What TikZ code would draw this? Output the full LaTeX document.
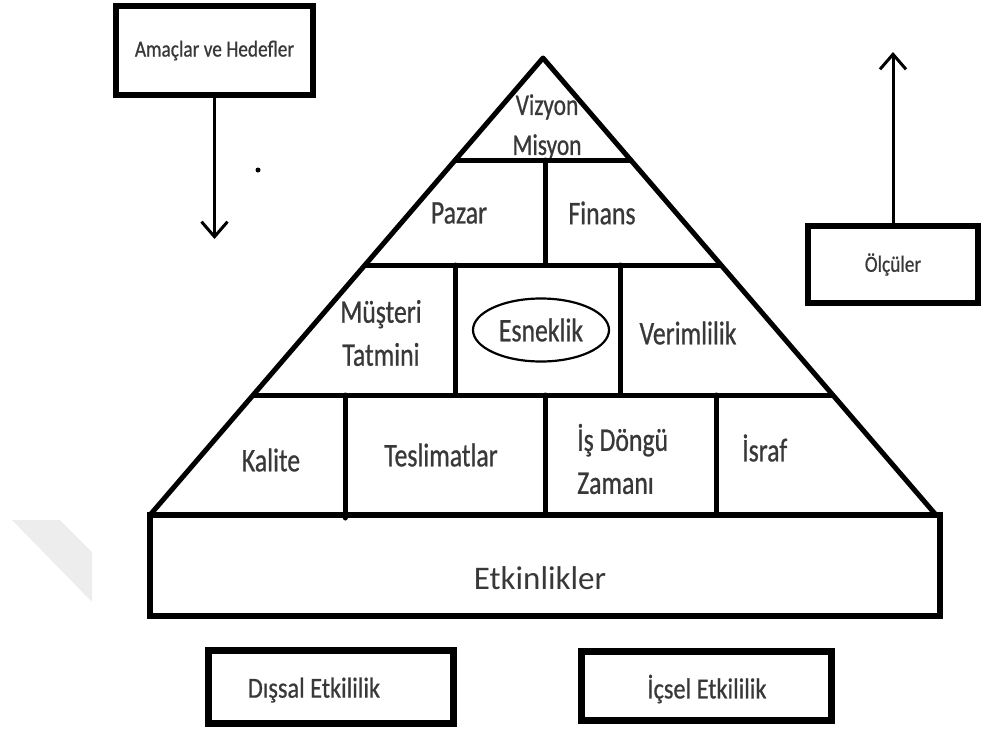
\documentclass[tikz,border=0pt]{standalone}
\usepackage{fontspec}
\setmainfont{Carlito}
\newfontfamily\cn[FakeStretch=0.78,FakeBold=0.7]{Carlito}
\newfontfamily\cm[FakeStretch=0.84,FakeBold=0.7]{Carlito}
\usetikzlibrary{arrows.meta,shapes.geometric}
\begin{document}
\begin{tikzpicture}[x=1pt,y=-1pt,
  pline/.style={line width=5pt, line join=round, line cap=round},
  boxA/.style={draw, rectangle, inner sep=0pt, text=black!78},
  lbl/.style={text=black!78, inner sep=0pt, align=center},
  tier/.style={lbl, font=\cn\fontsize{33}{43}\selectfont},
  arr/.style={line width=3pt, -{Straight Barb[length=15pt,width=26pt]}}
]
\useasboundingbox (0,0) rectangle (983,731);
% faint watermark
\fill[black!7] (12,520) -- (60,520) -- (92,552) -- (92,602) -- cycle;

% pyramid labels
\node[tier, font=\cn\fontsize{30}{40}\selectfont] (viz) at (547,127) {Vizyon\\Misyon};
\node[tier] (pazar) at (459,213) {Pazar};
\node[tier] (finans) at (602,213) {Finans};
\node[tier] (must) at (381,333) {Müşteri\\Tatmini};
\node[ellipse, draw, line width=2.2pt, minimum width=136, minimum height=63, inner sep=0pt, text=black!78, font=\cn\fontsize{33}{40}\selectfont] (esn) at (541,330) {Esneklik};
\node[tier] (verim) at (688,333) {Verimlilik};
\node[tier] (kalite) at (271,460) {Kalite};
\node[tier] (tesl) at (441,455) {Teslimatlar};
\node[tier, align=left, anchor=west] (isd) at (577,459) {İş Döngü\\Zamanı};
\node[tier, anchor=west] (israf) at (742,448) {İsraf};

% pyramid
\coordinate (apex) at (543,58);
\coordinate (bl) at (150,515);
\coordinate (br) at (936,515);
\draw[pline] (bl) -- (apex) -- (br);
\draw[pline] (455.3,160) -- (630.7,160);
\draw[pline] (365,265) -- (721,265);
\draw[pline] (253.2,395) -- (832.8,395);
\draw[pline] (545,160) -- (545,265);
\draw[pline] (455,265) -- (455,395);
\draw[pline] (620,265) -- (620,395);
\draw[pline] (345,395) -- (345,518);
\draw[pline] (545,395) -- (545,515);
\draw[pline] (716,395) -- (716,515);

% base box
\node[boxA, line width=6pt, minimum width=790, minimum height=101] (etk) at (545,565.5) {};
\node[lbl, font=\fontsize{33}{40}\selectfont] (etktext) at (540,578) {Etkinlikler};

% side boxes
\node[boxA, line width=6pt, minimum width=197, minimum height=89, font=\cm\fontsize{23}{28}\selectfont] (amac) at (214.5,50.5) {Amaçlar ve Hedefler};
\coordinate (amacend) at (214.5,239);
\draw[arr] (amac.south) -- (amacend);
\fill (258,170) circle (2.5);

\node[boxA, line width=5.5pt, minimum width=170, minimum height=77, font=\cm\fontsize{23}{28}\selectfont] (olc) at (893,264.5) {Ölçüler};
\coordinate (olcend) at (893,52);
\draw[arr] (olc.north) -- (olcend);

% bottom boxes
\node[boxA, line width=7pt, minimum width=245, minimum height=73] (dis) at (331,687) {};
\node[lbl, font=\cm\fontsize{29}{34}\selectfont] (distext) at (314,690) {Dışsal Etkililik};
\node[boxA, line width=7pt, minimum width=250, minimum height=69] (ic) at (706.5,686) {};
\node[lbl, font=\cm\fontsize{29}{34}\selectfont] (ictext) at (707,689) {İçsel Etkililik};
\end{tikzpicture}
\end{document}
